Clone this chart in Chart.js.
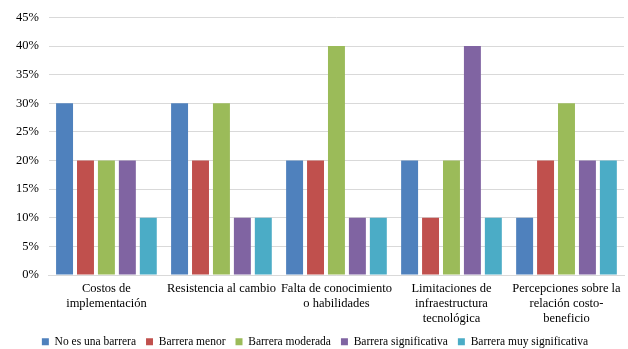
<!DOCTYPE html>
<html>
<head>
<meta charset="utf-8">
<script src="https://cdn.jsdelivr.net/npm/chart.js@4/dist/chart.umd.min.js"></script>
<style>
  html, body { margin: 0; padding: 0; background: #ffffff; }
  #wrap { width: 628px; height: 349px; position: relative; }
</style>
</head>
<body>
<div id="wrap"><canvas id="c"></canvas></div>
<script>
// Barriers to adoption, share of responses per category (%)
const categories = [
  ["Costos de", "implementación"],
  ["Resistencia al cambio"],
  ["Falta de conocimiento", "o habilidades"],
  ["Limitaciones de", "infraestructura", "tecnológica"],
  ["Percepciones sobre la", "relación costo-", "beneficio"]
];
const seriesNames = [
  "No es una barrera",
  "Barrera menor",
  "Barrera moderada",
  "Barrera significativa",
  "Barrera muy significativa"
];
const noBarrera      = [30, 30, 20, 20, 10];
const menor          = [20, 20, 20, 10, 20];
const moderada       = [20, 30, 40, 20, 30];
const significativa  = [20, 10, 10, 40, 20];
const muySignificat  = [10, 10, 10, 10, 20];
const yTicks = [0, 5, 10, 15, 20, 25, 30, 35, 40, 45];

const colors = ["#4F81BD", "#C0504D", "#9BBB59", "#8064A2", "#4BACC6"];
const values = [noBarrera, menor, moderada, significativa, muySignificat];

const FONT = "'Liberation Serif', 'Times New Roman', serif";

// Keep the legend strip compact so it sits close to the bottom edge
const compactLegend = {
  id: "compactLegend",
  beforeInit(chart) {
    const legend = chart.legend;
    const fit = legend.fit;
    legend.fit = function () {
      fit.call(this);
      this.height = 23;
    };
  }
};

new Chart(document.getElementById("c"), {
  type: "bar",
  data: {
    labels: categories,
    datasets: seriesNames.map((name, i) => ({
      label: name,
      data: values[i],
      backgroundColor: colors[i],
      borderWidth: 0
    }))
  },
  plugins: [compactLegend],
  options: {
    responsive: true,
    maintainAspectRatio: false,
    animation: false,
    datasets: { bar: { categoryPercentage: 0.91, barPercentage: 0.81 } },
    layout: { padding: { left: 6, right: 4, top: 11, bottom: 0 } },
    plugins: {
      tooltip: { enabled: false },
      legend: {
        position: "bottom",
        labels: {
          font: { family: FONT, size: 11.5 },
          color: "#000000",
          boxWidth: 7,
          boxHeight: 7,
          padding: 10
        }
      }
    },
    scales: {
      x: {
        afterFit: (axis) => { axis.height -= 6; },
        grid: { display: false, drawTicks: false },
        border: { display: true, color: "#d9d9d9" },
        ticks: {
          font: { family: FONT, size: 12.5 },
          color: "#000000",
          maxRotation: 0,
          autoSkip: false,
          padding: 6
        }
      },
      y: {
        min: 0,
        max: 45,
        afterBuildTicks: (axis) => { axis.ticks = yTicks.map(v => ({ value: v })); },
        grid: { color: "#d9d9d9", drawTicks: false },
        border: { display: false },
        ticks: {
          font: { family: FONT, size: 12.5 },
          color: "#000000",
          padding: 10,
          callback: (v) => v + "%"
        }
      }
    }
  }
});
</script>
</body>
</html>
